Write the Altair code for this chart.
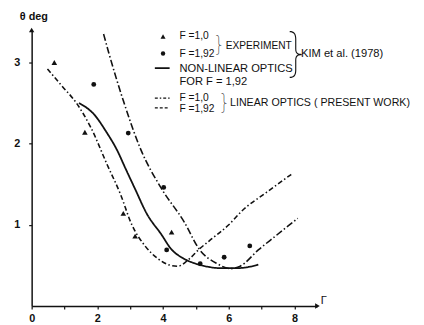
import altair as alt
import pandas as pd

# Experiment (Kim et al. 1978)
tri_x = [0.69, 1.62, 2.79, 3.15, 4.26]
tri_y = [3.00, 2.14, 1.14, 0.86, 0.91]
dot_x = [1.89, 2.94, 4.02, 4.11, 5.13, 5.86, 6.64]
dot_y = [2.73, 2.13, 1.46, 0.69, 0.52, 0.60, 0.74]

# Non-linear optics, F = 1.92
nl_x = [1.44, 1.90, 2.28, 2.60, 2.85, 3.15, 3.50, 3.95, 4.25, 4.60, 5.00, 5.40, 5.80, 6.20, 6.60, 6.90]
nl_y = [2.50, 2.36, 2.14, 1.92, 1.70, 1.44, 1.14, 0.88, 0.70, 0.59, 0.52, 0.48, 0.465, 0.465, 0.48, 0.51]

# Linear optics (present work), F = 1.0
l1_x = [0.48, 0.90, 1.38, 1.80, 2.30, 2.70, 3.05, 3.45, 3.85, 4.15, 4.45, 4.80, 5.10, 5.40, 6.00, 6.40, 7.15, 7.90]
l1_y = [2.92, 2.72, 2.49, 2.20, 1.74, 1.38, 1.00, 0.74, 0.58, 0.51, 0.49, 0.58, 0.70, 0.80, 1.00, 1.17, 1.40, 1.62]

# Linear optics (present work), F = 1.92
l2_x = [2.19, 2.34, 2.79, 3.33, 3.93, 4.65, 5.10, 5.65, 6.05, 6.35, 6.90, 7.42, 8.10]
l2_y = [3.35, 3.13, 2.53, 1.92, 1.46, 1.03, 0.70, 0.52, 0.46, 0.49, 0.69, 0.86, 1.08]

x_ticks = [0, 1, 2, 3, 4, 5, 6, 7, 8]
y_ticks = [1, 2, 3]

INK = "#111111"
FONT = "Liberation Sans"

xs = alt.Scale(domain=[0, 8.7], nice=False, zero=False)
ys = alt.Scale(domain=[0, 3.4], nice=False, zero=False)
xax = alt.Axis(values=x_ticks, labelExpr="datum.value % 2 == 0 ? datum.label : ''",
               grid=False, title=None, tickSize=3, labelPadding=4, labelFlush=False)
yax = alt.Axis(values=y_ticks, grid=False, title=None, tickSize=3, labelPadding=9)

def X(f="x"):
    return alt.X(f"{f}:Q", scale=xs, axis=xax)

def Y(f="y"):
    return alt.Y(f"{f}:Q", scale=ys, axis=yax)

def curve(xv, yv, dash, width):
    df = pd.DataFrame({"x": xv, "y": yv})
    m = alt.Chart(df).mark_line(interpolate="monotone", color=INK, strokeWidth=width,
                                strokeDash=dash if dash else [1, 0])
    return m.encode(x=X(), y=Y())

def label(df, size, weight="normal", align="left", font=FONT):
    return alt.Chart(df).mark_text(align=align, baseline="middle", font=font, fontWeight=weight,
                                   fontSize=size, color=INK).encode(x=X(), y=Y(), text="t:N")

DASH1 = [5, 2.5, 1.5, 2.5]
DASH2 = [7, 2.5, 1.5, 2.5]

layers = [
    curve(nl_x, nl_y, None, 1.8),
    curve(l1_x, l1_y, DASH1, 1.6),
    curve(l2_x, l2_y, DASH2, 1.6),
    alt.Chart(pd.DataFrame({"x": tri_x, "y": tri_y})).mark_point(
        shape="triangle-up", filled=True, size=32, color=INK, opacity=1).encode(x=X(), y=Y()),
    alt.Chart(pd.DataFrame({"x": dot_x, "y": dot_y})).mark_point(
        shape="circle", filled=True, size=24, color=INK, opacity=1).encode(x=X(), y=Y()),
    # axis arrow heads
    alt.Chart(pd.DataFrame({"x": [0], "y": [3.4]})).mark_point(
        shape="triangle-up", filled=True, size=30, color=INK, opacity=1).encode(x=X(), y=Y()),
    alt.Chart(pd.DataFrame({"x": [8.7], "y": [0]})).mark_point(
        shape="triangle-right", filled=True, size=30, color=INK, opacity=1).encode(x=X(), y=Y()),
]

# legend samples
leg_tri = pd.DataFrame({"x": [4.0], "y": [3.32]})
leg_dot = pd.DataFrame({"x": [4.0], "y": [3.11]})
layers += [
    alt.Chart(leg_tri).mark_point(shape="triangle-up", filled=True, size=26, color=INK, opacity=1).encode(x=X(), y=Y()),
    alt.Chart(leg_dot).mark_point(shape="circle", filled=True, size=20, color=INK, opacity=1).encode(x=X(), y=Y()),
    curve([3.75, 4.2], [2.93, 2.93], None, 1.8),
    curve([3.75, 4.2], [2.56, 2.56], [3, 2, 1.5, 2], 1.4),
    curve([3.75, 4.2], [2.44, 2.44], [3, 2], 1.4),
]

f_texts = pd.DataFrame({
    "x": [4.5, 4.5, 4.5, 4.5],
    "y": [3.32, 3.11, 2.56, 2.43],
    "t": ["F =1,0", "F =1,92", "F =1,0", "F =1,92"],
})
layers.append(label(f_texts, 10.4))

texts = pd.DataFrame({
    "x": [4.5, 4.5, 8.2, 8.8],
    "y": [2.92, 2.76, 3.10, 0.06],
    "t": ["NON-LINEAR OPTICS", "FOR  F = 1,92", "KIM et al. (1978)", "Γ"],
})
layers.append(label(texts, 11.3))

exp_text = pd.DataFrame({"x": [5.91], "y": [3.20], "t": ["EXPERIMENT"]})
layers.append(label(exp_text, 10.3))

lin_text = pd.DataFrame({"x": [6.04], "y": [2.50], "t": ["LINEAR OPTICS ( PRESENT WORK)"]})
layers.append(label(lin_text, 10.8))

braces_small = pd.DataFrame({"x": [5.7, 5.86], "y": [3.22, 2.50], "t": ["}", "}"]})
layers.append(label(braces_small, 22, weight=100, align="center", font="Inter"))
brace_big = pd.DataFrame({"x": [8.04], "y": [3.09], "t": ["}"]})
layers.append(label(brace_big, 52, weight=100, align="center", font="Inter"))

title_df = pd.DataFrame({"x": [-0.36], "y": [3.56], "t": ["θ  deg"]})
layers.append(label(title_df, 11, weight="bold"))

chart = alt.layer(*layers).properties(
    width=290, height=280,
    padding={"left": 24, "top": 20, "right": 100, "bottom": 17},
    autosize="none",
    background="white",
).configure_view(stroke=None).configure_axis(
    domainColor=INK, domainWidth=1.5, tickColor=INK, tickWidth=1.2,
    labelColor=INK, labelFont=FONT, labelFontSize=11, labelFontWeight="bold",
)

chart.save("out.html", embed_options={"renderer": "svg", "actions": False})
